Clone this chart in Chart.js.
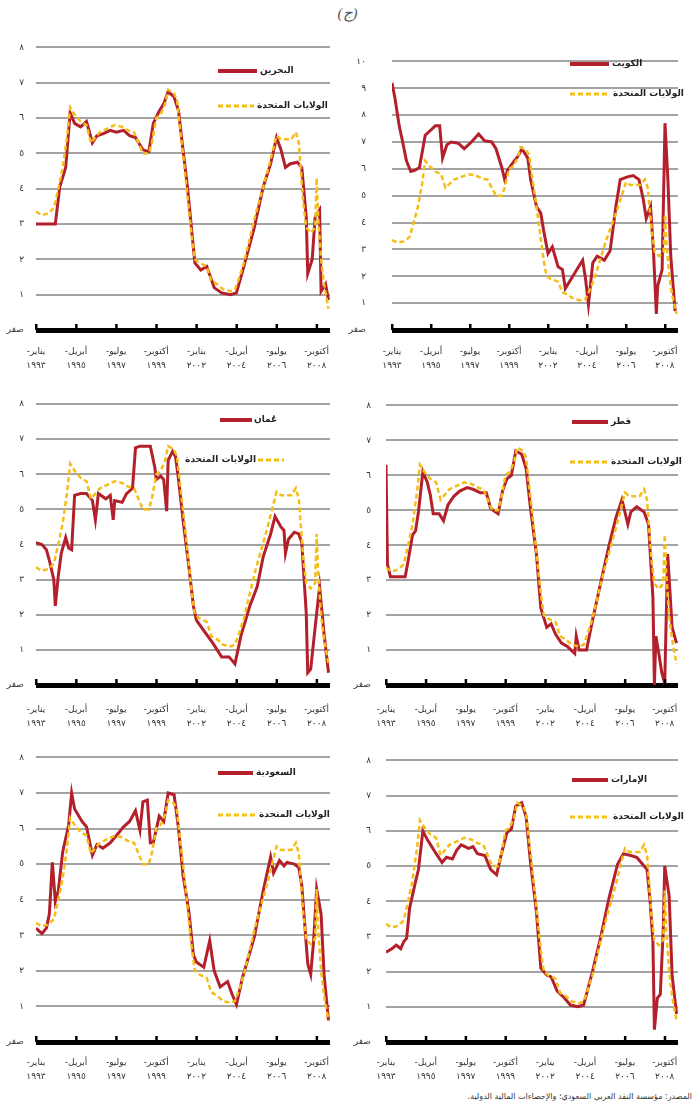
<!DOCTYPE html>
<html lang="ar">
<head>
<meta charset="utf-8">
<script src="https://cdn.jsdelivr.net/npm/chart.js@4/dist/chart.umd.min.js"></script>
<style>
  body { margin: 0; background: #fff; }
  #page { position: relative; width: 695px; height: 1113px; overflow: hidden; }
  canvas { position: absolute; }
  #title { position: absolute; top: 4px; left: 0; width: 695px; text-align: center;
           font: italic 15px "Liberation Serif", serif; color: #555; }
  #source { position: absolute; top: 1092px; right: 3px; direction: rtl;
            font: 8px "DejaVu Sans", sans-serif; color: #333; }
</style>
</head>
<body>
<div id="page">
  <div id="title">(ج)</div>
  <canvas id="bahrain" width="345" height="350" style="left:0;top:30px"></canvas>
  <canvas id="kuwait" width="350" height="350" style="left:345px;top:30px"></canvas>
  <canvas id="oman" width="345" height="350" style="left:0;top:385px"></canvas>
  <canvas id="qatar" width="350" height="350" style="left:345px;top:385px"></canvas>
  <canvas id="saudi" width="345" height="345" style="left:0;top:740px"></canvas>
  <canvas id="uae" width="350" height="345" style="left:345px;top:740px"></canvas>
  <div id="source">المصدر: مؤسسة النقد العربي السعودي؛ والإحصاءات المالية الدولية.</div>
</div>
<script>
// months counted from January 1993 (0) to mid 2009
const tickMonths = [0, 27, 54, 81, 108, 135, 162, 189];
const tickMonthNames = ['يناير', 'أبريل', 'يوليو', 'أكتوبر', 'يناير', 'أبريل', 'يوليو', 'أكتوبر'];
const tickYears = ['١٩٩٣', '١٩٩٥', '١٩٩٧', '١٩٩٩', '٢٠٠٢', '٢٠٠٤', '٢٠٠٦', '٢٠٠٨'];

const usMonths = [0,4,8,12,15,18,21,23,26,30,34,37,40,43,48,53,58,62,66,69,72,76,78,81,84,87,89,93,95,97,99,102,105,107,110,115,118,122,126,131,134,137,140,144,148,152,156,159,162,165,168,172,175,177,180,182,185,188,189,190,192,194,197];
const usRates = [3.35,3.25,3.3,3.45,4.0,4.6,5.5,6.3,6.1,5.9,5.8,5.3,5.45,5.6,5.7,5.8,5.75,5.65,5.6,5.3,5.0,5.0,5.3,6.0,6.1,6.4,6.8,6.7,6.5,5.7,5.0,3.8,2.6,2.0,1.9,1.8,1.4,1.3,1.15,1.1,1.15,1.5,1.9,2.6,3.3,3.9,4.5,5.0,5.5,5.4,5.4,5.4,5.6,5.3,3.6,2.9,2.75,2.9,4.3,3.2,2.0,1.3,0.6];

const bahrainMonths = [0,13,16,20,23,26,30,34,38,41,45,50,54,59,63,67,72,76,79,83,86,89,93,96,99,102,105,107,111,115,120,125,131,135,140,147,153,158,162,165,168,171,176,179,182,183,186,188,191,192,195,197];
const bahrainRates = [3.0,3.0,4.05,4.6,6.15,5.85,5.75,5.9,5.3,5.5,5.55,5.65,5.6,5.65,5.5,5.45,5.1,5.05,5.85,6.2,6.4,6.75,6.6,6.2,5.1,4.05,2.75,1.9,1.7,1.8,1.2,1.05,1.0,1.05,1.8,2.9,4.05,4.7,5.45,5.1,4.6,4.7,4.75,4.6,3.2,1.6,2.0,3.2,3.4,1.1,1.3,0.85];

const kuwaitMonths = [0,2,5,7,10,13,16,19,23,26,30,33,35,38,41,46,50,55,60,64,69,72,76,78,80,84,87,90,94,96,100,103,105,108,111,115,118,120,124,128,132,134,136,139,142,147,151,155,158,163,167,171,174,176,179,181,183,184,187,189,191,193,196];
const kuwaitRates = [9.2,8.65,7.6,7.1,6.3,5.9,5.95,6.05,7.25,7.4,7.6,7.6,6.4,6.9,7.0,6.95,6.75,7.0,7.3,7.05,7.0,6.75,6.05,5.6,5.95,6.25,6.45,6.75,6.4,5.6,4.6,4.35,3.7,2.85,3.1,2.35,2.25,1.55,1.9,2.25,2.6,1.9,0.95,2.5,2.75,2.6,2.95,4.6,5.6,5.7,5.75,5.6,4.85,4.15,4.6,2.95,0.6,1.65,2.25,7.7,5.6,2.75,0.7];

const omanMonths = [0,4,7,9,12,13,15,17,20,22,24,26,30,34,38,40,42,47,50,52,53,58,61,65,67,70,77,80,81,84,86,88,89,92,94,96,99,103,106,108,113,119,125,130,134,138,144,149,153,158,161,165,167,168,170,174,177,179,182,183,185,188,191,194,197];
const omanRates = [4.05,4.0,3.85,3.55,3.0,2.25,3.1,3.75,4.2,3.9,3.85,5.4,5.45,5.45,5.25,4.7,5.45,5.3,5.4,4.7,5.25,5.2,5.45,5.6,6.75,6.8,6.8,6.2,5.85,5.95,5.85,4.95,6.4,6.65,6.5,5.85,4.7,3.35,2.25,1.85,1.55,1.2,0.8,0.8,0.6,1.4,2.25,2.8,3.65,4.3,4.8,4.5,4.4,3.75,4.15,4.35,4.3,4.05,2.05,0.35,0.45,1.65,2.8,1.45,0.35];

const qatarMonths = [0,1,3,9,13,15,18,20,22,25,28,30,32,36,39,42,46,50,55,59,64,68,71,76,79,82,85,88,92,95,98,102,105,109,112,115,119,123,128,129,131,136,140,146,151,156,160,164,166,170,175,178,181,182,183,185,187,189,191,194,197];
const qatarRates = [6.3,3.45,3.1,3.1,3.1,3.55,4.3,4.4,4.95,6.1,5.8,5.45,4.9,4.9,4.7,5.15,5.4,5.55,5.65,5.6,5.5,5.5,5.05,4.9,5.55,5.9,6.0,6.7,6.6,6.2,5.05,3.75,2.2,1.65,1.75,1.45,1.2,1.1,0.9,1.4,1.0,1.0,1.85,3.0,3.95,4.8,5.3,4.6,4.95,5.1,4.95,4.6,2.5,0.0,1.4,0.9,0.35,0.05,3.75,1.65,1.2];

const saudiMonths = [0,4,7,9,11,13,15,18,22,24,26,31,34,38,41,45,50,54,59,63,67,70,72,75,77,79,83,86,89,93,96,99,103,106,108,113,117,120,124,129,132,135,139,147,153,158,160,164,167,169,174,177,179,183,185,187,189,192,194,197];
const saudiRates = [3.2,3.05,3.2,3.6,5.05,3.95,4.25,5.35,6.1,7.0,6.55,6.2,6.05,5.25,5.55,5.45,5.6,5.8,6.05,6.2,6.5,5.95,6.75,6.8,5.6,5.6,6.35,6.2,7.0,6.95,6.0,4.7,3.65,2.45,2.25,2.1,2.85,2.0,1.55,1.7,1.35,1.05,1.8,2.95,4.25,5.2,4.75,5.1,4.95,5.05,5.0,4.9,4.4,2.2,1.9,2.85,4.3,3.6,1.9,0.6];

const uaeMonths = [0,4,7,10,12,14,16,20,22,25,28,31,34,38,41,45,48,51,56,59,62,67,71,75,78,82,85,88,92,95,98,102,105,109,112,116,121,125,130,134,140,146,151,157,161,166,170,174,177,179,181,182,184,186,188,189,192,194,197];
const uaeRates = [2.55,2.65,2.75,2.65,2.85,2.95,3.8,4.55,4.9,6.0,5.75,5.55,5.35,5.1,5.25,5.2,5.45,5.6,5.5,5.55,5.35,5.3,4.9,4.75,5.3,5.95,6.05,6.7,6.8,6.4,5.1,3.7,2.1,1.9,1.85,1.45,1.25,1.05,1.0,1.05,2.0,3.05,4.05,5.05,5.35,5.3,5.25,5.05,4.9,4.05,2.85,0.35,1.25,1.35,3.2,5.0,4.15,1.9,0.8];

const usLabel = 'الولايات المتحدة';
const RED = '#b3202c';
const YELLOW = '#f5bd17';
const FONT = '"DejaVu Sans", sans-serif';

const arDigits = n => String(n).replace(/\d/g, d => '٠١٢٣٤٥٦٧٨٩'[d]);
const toPoints = (ms, vs) => ms.map((m, i) => ({ x: m, y: vs[i] }));

// draws the little tick marks on the zero line and the legend inside the plot
const panelDecor = {
  id: 'panelDecor',
  afterDraw(chart, args, opts) {
    const ctx = chart.ctx;
    const xs = chart.scales.x;
    const y0 = chart.scales.y.getPixelForValue(0);
    ctx.save();
    ctx.fillStyle = '#000';
    tickMonths.forEach(m => {
      const px = xs.getPixelForValue(m);
      ctx.fillRect(px - 1, y0 - 6, 2.5, 6);
    });
    ctx.font = 'bold 9px ' + FONT;
    ctx.textBaseline = 'middle';
    opts.items.forEach(it => {
      const ox = opts.left, oy = opts.top;
      ctx.beginPath();
      ctx.strokeStyle = it.color;
      ctx.lineWidth = it.dash ? 3 : 4;
      ctx.setLineDash(it.dash || []);
      ctx.moveTo(it.x1 - ox, it.y - oy);
      ctx.lineTo(it.x2 - ox, it.y - oy);
      ctx.stroke();
      ctx.setLineDash([]);
      ctx.fillStyle = '#222';
      ctx.textAlign = it.align || 'left';
      ctx.fillText(it.label, it.tx - ox, it.y - oy);
    });
    ctx.restore();
  }
};

function makePanel(id, box, area, yMax, name, months, rates, legendItems) {
  const ctx = document.getElementById(id).getContext('2d');
  return new Chart(ctx, {
    type: 'line',
    data: {
      datasets: [
        {
          label: usLabel,
          data: toPoints(usMonths, usRates),
          borderColor: YELLOW,
          borderWidth: 2.5,
          borderDash: [5, 3],
          pointRadius: 0,
          order: 0
        },
        {
          label: name,
          data: toPoints(months, rates),
          borderColor: RED,
          borderWidth: 3,
          pointRadius: 0,
          order: 1
        }
      ]
    },
    options: {
      responsive: false,
      animation: false,
      layout: { padding: { top: area.top, right: box.width - area.right, left: 0, bottom: 0 } },
      plugins: {
        legend: { display: false },
        tooltip: { enabled: false },
        panelDecor: { items: legendItems, left: box.left, top: box.top }
      },
      scales: {
        x: {
          type: 'linear',
          min: 0,
          max: 198,
          afterBuildTicks: axis => { axis.ticks = tickMonths.map(v => ({ value: v })); },
          afterFit: s => { s.height = box.height - area.bottom; },
          grid: { display: false },
          border: { display: false },
          ticks: {
            autoSkip: false,
            maxRotation: 0,
            padding: area.xPad,
            color: '#333',
            font: { family: FONT, size: 9, lineHeight: 1.5 },
            callback: v => {
              const i = tickMonths.indexOf(v);
              return i < 0 ? '' : ['-' + tickMonthNames[i], tickYears[i]];
            }
          }
        },
        y: {
          min: 0,
          max: yMax,
          afterFit: s => { s.width = area.left; },
          border: { display: false },
          grid: {
            drawTicks: false,
            color: c => c.tick.value === 0 ? '#000' : '#a3a3a3',
            lineWidth: c => c.tick.value === 0 ? 5 : 2
          },
          ticks: {
            stepSize: 1,
            padding: area.labelPad,
            color: '#333',
            font: { family: FONT, size: 9 },
            callback: v => v === 0 ? 'صفر' : arDigits(v)
          }
        }
      }
    },
    plugins: [panelDecor]
  });
}

makePanel('bahrain', { left: 0, top: 30, width: 345, height: 350 },
  { top: 17, bottom: 300, left: 36, right: 330, labelPad: 12, xPad: 7 }, 8, 'البحرين', bahrainMonths, bahrainRates, [
    { label: 'البحرين', color: RED, x1: 218, x2: 257, y: 71, tx: 260 },
    { label: usLabel, color: YELLOW, dash: [5, 3], x1: 218, x2: 254, y: 106, tx: 257 }
  ]);

makePanel('kuwait', { left: 345, top: 30, width: 350, height: 350 },
  { top: 19, bottom: 300, left: 47, right: 333, labelPad: 26, xPad: 7 }, 10, 'الكويت', kuwaitMonths, kuwaitRates, [
    { label: 'الكويت', color: RED, x1: 570, x2: 609, y: 64, tx: 612 },
    { label: usLabel, color: YELLOW, dash: [5, 3], x1: 570, x2: 610, y: 94, tx: 613 }
  ]);

makePanel('oman', { left: 0, top: 385, width: 345, height: 350 },
  { top: 19, bottom: 300, left: 36, right: 330, labelPad: 12, xPad: 10 }, 8, 'عُمان', omanMonths, omanRates, [
    { label: 'عُمان', color: RED, x1: 220, x2: 252, y: 420, tx: 254 },
    { label: usLabel, color: YELLOW, dash: [5, 3], x1: 258, x2: 284, y: 460, tx: 256, align: 'right' }
  ]);

makePanel('qatar', { left: 345, top: 385, width: 350, height: 350 },
  { top: 18, bottom: 300, left: 41, right: 333, labelPad: 15, xPad: 10 }, 8, 'قطر', qatarMonths, qatarRates, [
    { label: 'قطر', color: RED, x1: 572, x2: 608, y: 422, tx: 611 },
    { label: usLabel, color: YELLOW, dash: [5, 3], x1: 570, x2: 608, y: 462, tx: 611 }
  ]);

makePanel('saudi', { left: 0, top: 740, width: 345, height: 345 },
  { top: 15, bottom: 302, left: 36, right: 330, labelPad: 12, xPad: 6 }, 8, 'السعودية', saudiMonths, saudiRates, [
    { label: 'السعودية', color: RED, x1: 218, x2: 253, y: 773, tx: 256 },
    { label: usLabel, color: YELLOW, dash: [5, 3], x1: 218, x2: 256, y: 815, tx: 259 }
  ]);

makePanel('uae', { left: 345, top: 740, width: 350, height: 345 },
  { top: 16, bottom: 302, left: 41, right: 333, labelPad: 15, xPad: 6 }, 8, 'الإمارات', uaeMonths, uaeRates, [
    { label: 'الإمارات', color: RED, x1: 572, x2: 608, y: 780, tx: 611 },
    { label: usLabel, color: YELLOW, dash: [5, 3], x1: 570, x2: 610, y: 817, tx: 613 }
  ]);
</script>
</body>
</html>
